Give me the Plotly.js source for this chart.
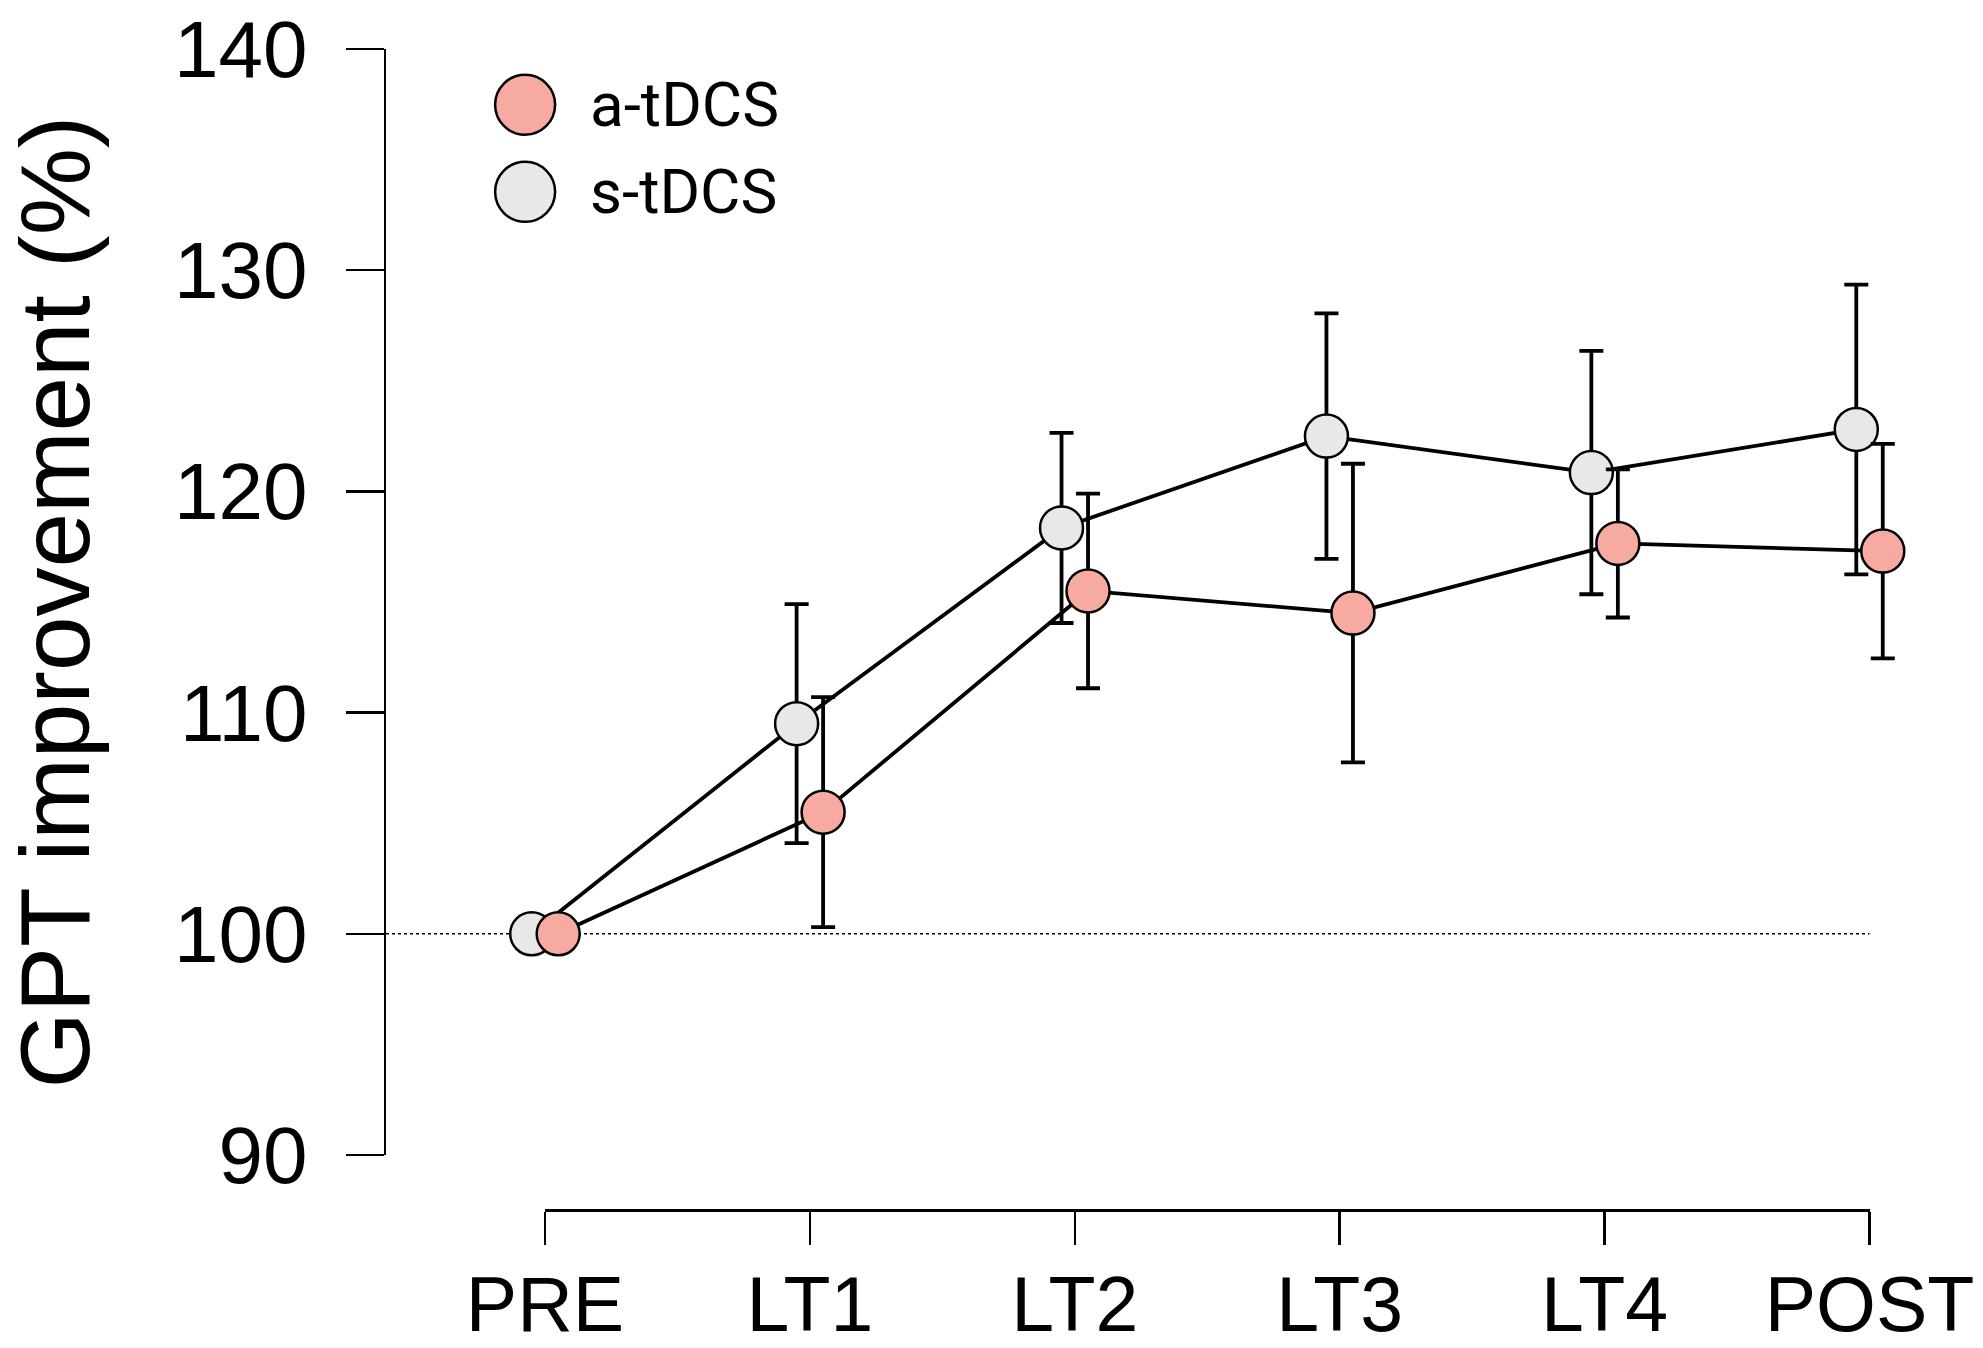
<!DOCTYPE html>
<html>
<head>
<meta charset="utf-8">
<script src="https://cdn.plot.ly/plotly-3.0.1.min.js"></script>
<style>
  html, body { margin: 0; padding: 0; background: #fff; }
</style>
</head>
<body>
<div id="gpt-chart" style="width:1983px;height:1348px;"></div>
<script>
// categories (time points)
const timePoints = ['PRE', 'LT1', 'LT2', 'LT3', 'LT4', 'POST'];

// mean GPT improvement (%) and error bars
const seriesNames = ['a-tDCS', 's-tDCS'];
const aMean = [100, 105.5, 115.5, 114.5, 117.65, 117.3];
const aErr = [0, 5.2, 4.4, 6.75, 3.35, 4.85];
const sMean = [100, 109.5, 118.35, 122.5, 120.85, 122.8];
const sErr = [0, 5.4, 4.3, 5.55, 5.5, 6.55];

const yTicks = [90, 100, 110, 120, 130, 140];
const baseline = 100;

const colors = { a: '#f6aaa2', s: '#e8e8e8' };
const dodge = 0.05; // small horizontal shift so both groups show
const xRange = [-0.6, 5.3];

const chart = document.getElementById('gpt-chart');
const idx = timePoints.map((t, i) => i);

function makeTrace(name, means, errs, fill, shift) {
  return {
    type: 'scatter',
    mode: 'lines+markers',
    name: name,
    x: idx.map((i) => i + shift),
    y: means,
    showlegend: false,
    line: { color: '#000', width: 3.8 },
    marker: { size: 43, color: fill, line: { color: '#000', width: 2.5 } },
    error_y: { type: 'data', array: errs, visible: true, color: '#000', thickness: 3.8, width: 12 },
    hoverinfo: 'x+y',
  };
}

// s-tDCS first so a-tDCS sits on top
const data = [
  // empty trace so the category axis (x2) gets drawn
  { type: 'scatter', mode: 'markers', x: idx, y: idx.map(() => null), xaxis: 'x2', yaxis: 'y', showlegend: false, hoverinfo: 'skip' },
  makeTrace(seriesNames[1], sMean, sErr, colors.s, -dodge),
  makeTrace(seriesNames[0], aMean, aErr, colors.a, dodge),
];

// the shown x axis only spans PRE..POST, so give it its own domain
const span = xRange[1] - xRange[0];
const x2Domain = [(0 - xRange[0]) / span, (timePoints.length - 1 - xRange[0]) / span];

const legendY = [0.952, 0.877];
const shapes = [
  {
    type: 'line',
    xref: 'x',
    yref: 'y',
    x0: xRange[0],
    x1: timePoints.length - 1,
    y0: baseline,
    y1: baseline,
    line: { color: '#000', width: 1.5, dash: 'dot' },
    layer: 'below',
  },
];
const annotations = [];
const legendFills = [colors.a, colors.s];
seriesNames.forEach((name, k) => {
  shapes.push({
    type: 'circle',
    xref: 'paper',
    yref: 'paper',
    xsizemode: 'pixel',
    ysizemode: 'pixel',
    xanchor: 0.089,
    yanchor: legendY[k],
    x0: -30,
    x1: 30,
    y0: -30,
    y1: 30,
    fillcolor: legendFills[k],
    line: { color: '#000', width: 2.5 },
  });
  annotations.push({
    xref: 'paper',
    yref: 'paper',
    x: 0.129,
    y: legendY[k],
    xanchor: 'left',
    yanchor: 'middle',
    showarrow: false,
    text: name,
    font: { family: 'Roboto, sans-serif', size: 62, color: '#000' },
  });
});

const layout = {
  width: 1983,
  height: 1348,
  margin: { l: 386, r: 34, t: 49, b: 138 },
  paper_bgcolor: '#fff',
  plot_bgcolor: 'rgba(0,0,0,0)',
  showlegend: false,
  font: { family: 'Liberation Sans, Arial, sans-serif', color: '#000' },
  xaxis: {
    range: xRange,
    visible: false,
    fixedrange: true,
  },
  xaxis2: {
    domain: x2Domain,
    range: [0, timePoints.length - 1],
    anchor: 'free',
    position: 0,
    tickmode: 'array',
    tickvals: idx,
    ticktext: timePoints,
    ticks: 'outside',
    ticklen: 33,
    tickwidth: 2.5,
    tickcolor: '#000',
    showline: true,
    linewidth: 2.5,
    linecolor: '#000',
    showgrid: false,
    zeroline: false,
    ticklabelstandoff: -6,
    tickfont: { family: 'Liberation Sans, Arial, sans-serif', size: 77, color: '#000' },
  },
  yaxis: {
    domain: [55 / 1161, 1],
    range: [90, 140],
    tickmode: 'array',
    tickvals: yTicks,
    ticks: 'outside',
    ticklen: 38,
    tickwidth: 2.5,
    tickcolor: '#000',
    showline: true,
    linewidth: 2.5,
    linecolor: '#000',
    showgrid: false,
    zeroline: false,
    ticklabelstandoff: 22,
    tickfont: { family: 'Liberation Sans, Arial, sans-serif', size: 80, color: '#000' },
    title: {
      text: 'GPT improvement (%)',
      standoff: 58,
      font: { family: 'Liberation Sans, Arial, sans-serif', size: 98, color: '#000' },
    },
  },
  shapes: shapes,
  annotations: annotations,
};

Plotly.newPlot(chart, data, layout, { displayModeBar: false, staticPlot: true });
</script>
</body>
</html>
